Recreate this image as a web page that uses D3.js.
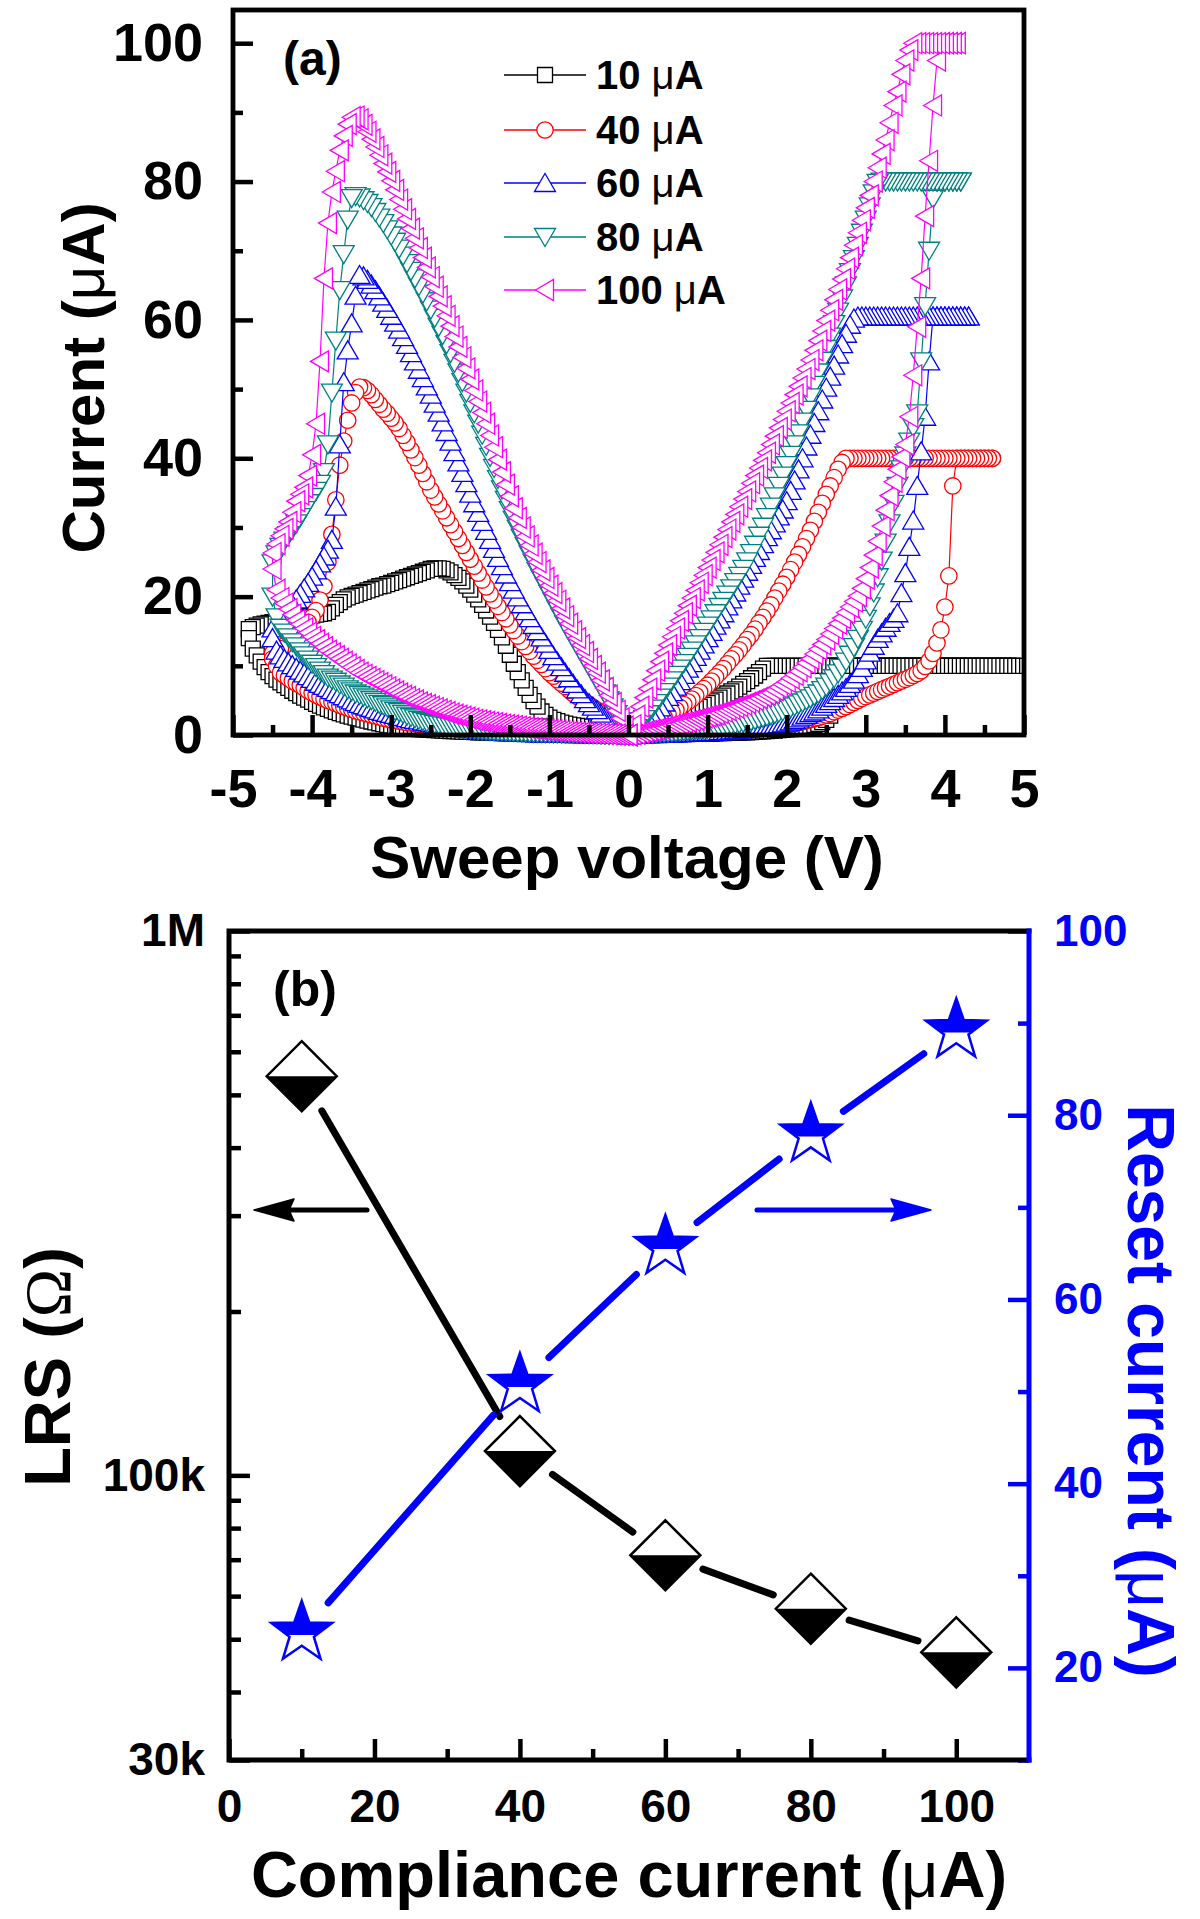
<!DOCTYPE html>
<html>
<head>
<meta charset="utf-8">
<script src="https://cdn.jsdelivr.net/npm/d3@7/dist/d3.min.js"></script>
<style>
  html, body { margin:0; padding:0; background:#ffffff; }
  svg { display:block; }
</style>
</head>
<body>
<svg id="chart" width="1200" height="1919" xmlns="http://www.w3.org/2000/svg"></svg>
<script>
// ================= DATA : panel (a) =================
// sweep voltage magnitude grid (V)
const sweepVoltage = [0,0.05,0.1,0.15,0.2,0.25,0.3,0.35,0.4,0.45,
0.5,0.55,0.6,0.65,0.7,0.75,0.8,0.85,0.9,0.95,
1,1.05,1.1,1.15,1.2,1.25,1.3,1.35,1.4,1.45,
1.5,1.55,1.6,1.65,1.7,1.75,1.8,1.85,1.9,1.95,
2,2.05,2.1,2.15,2.2,2.25,2.3,2.35,2.4,2.45,
2.5,2.55,2.6,2.65,2.7,2.75,2.8,2.85,2.9,2.95,
3,3.05,3.1,3.15,3.2,3.25,3.3,3.35,3.4,3.45,
3.5,3.55,3.6,3.65,3.7,3.75,3.8,3.85,3.9,3.95,
4,4.05,4.1,4.15,4.2,4.25,4.3,4.35,4.4,4.45,
4.5,4.55,4.6,4.65,4.7,4.75,4.8,4.85,4.9,4.95,
5];

// Currents (uA), index i <-> |V| = sweepVoltage[i]
// posUp: 0 -> +Vmax (set sweep), posDown: +Vmax -> 0 (stored ascending V)
// negUp: 0 -> -Vmax (reset sweep), negDown: -Vmax -> 0 (stored ascending |V|)

// ---- 10 uA ----
const i10_posUp = [0,0.01,0.02,0.03,0.04,0.05,0.06,0.07,0.08,0.09,
0.1,0.11,0.12,0.13,0.14,0.15,0.16,0.17,0.18,0.19,
0.2,0.22,0.24,0.26,0.28,0.3,0.32,0.34,0.36,0.38,
0.4,0.43,0.46,0.49,0.52,0.56,0.6,0.65,0.7,0.75,
0.8,0.87,0.94,1.02,1.1,1.2,1.32,1.45,1.6,1.85,
2.2,2.8,10,10,10,10,10,10,10,10,
10,10,10,10,10,10,10,10,10,10,
10,10,10,10,10,10,10,10,10,10,
10,10,10,10,10,10,10,10,10,10,
10,10,10,10,10,10,10,10,10];
const i10_posDown = [0,0.2,0.4,0.6,0.8,1.0,1.25,1.5,1.7,1.95,
2.2,2.45,2.7,2.95,3.2,3.4,3.6,3.85,4.1,4.35,
4.6,4.85,5.1,5.4,5.7,6.0,6.3,6.6,7.0,7.4,
7.8,8.2,8.6,9.1,9.6,10,10,10,10,10,
10,10,10,10,10,10,10,10,10,10,
10,10,10,10,10,10,10,10,10,10,
10,10,10,10,10,10,10,10,10,10,
10,10,10,10,10,10,10,10,10,10,
10,10,10,10,10,10,10,10,10,10,
10,10,10,10,10,10,10,10,10];
const i10_negUp = [0,0.1,0.2,0.3,0.4,0.5,0.6,0.7,0.8,0.9,
1.0,1.1,1.2,1.3,1.4,1.5,1.65,1.8,2.0,2.2,
2.5,2.9,3.4,4.1,4.9,5.8,6.8,7.9,9.1,10.3,
11.6,12.9,14.1,15.2,16.2,17.1,18.0,18.8,19.6,20.3,
21.0,21.6,22.2,22.7,23.1,23.5,23.8,24.0,24.1,24.1,
24.0,23.8,23.6,23.4,23.2,23.0,22.8,22.6,22.4,22.2,
22.0,21.8,21.6,21.5,21.3,21.1,20.9,20.7,20.5,20.3,
20.1,19.9,19.6,19.2,18.8,18.3,17.8,17.6,17.5,17.4,
17.3,17.2,17.1,17.0,16.9,16.8,16.7,16.6,16.5,16.4,
16.3,16.2,16.1,16.0,15.8,15.6,15.3];
const i10_negDown = [0,0.01,0.01,0.02,0.02,0.03,0.03,0.04,0.04,0.05,
0.05,0.06,0.06,0.07,0.07,0.08,0.08,0.09,0.09,0.1,
0.1,0.11,0.12,0.13,0.14,0.15,0.16,0.18,0.2,0.22,
0.24,0.26,0.28,0.3,0.32,0.34,0.36,0.38,0.4,0.42,
0.45,0.47,0.49,0.52,0.55,0.58,0.61,0.64,0.67,0.7,
0.73,0.77,0.81,0.86,0.91,0.97,1.03,1.1,1.18,1.27,
1.37,1.47,1.58,1.7,1.82,1.95,2.08,2.22,2.36,2.5,
2.65,2.8,2.97,3.15,3.35,3.55,3.77,4.0,4.25,4.5,
4.8,5.1,5.4,5.7,6.05,6.4,6.8,7.2,7.6,8.0,
8.5,9.1,9.8,10.6,11.5,12.5,14];

// ---- 40 uA ----
const i40_posUp = [0,0.02,0.04,0.06,0.08,0.1,0.12,0.14,0.16,0.18,
0.2,0.22,0.24,0.26,0.28,0.3,0.33,0.36,0.39,0.42,
0.45,0.48,0.52,0.56,0.6,0.64,0.68,0.72,0.77,0.82,
0.87,0.92,0.98,1.04,1.1,1.17,1.24,1.31,1.39,1.47,
1.55,1.64,1.74,1.85,1.97,2.1,2.24,2.38,2.53,2.7,
2.9,3.1,3.35,3.6,3.85,4.1,4.4,4.7,5.0,5.3,
5.55,5.8,6.05,6.3,6.55,6.8,7.05,7.3,7.55,7.8,
8.05,8.3,8.6,8.9,9.3,9.9,10.7,11.8,13.3,15.2,
18.5,23,36,40,40,40,40,40,40,40,
40,40,40];
const i40_posDown = [0,0.25,0.5,0.75,1.0,1.3,1.6,1.95,2.3,2.6,
2.95,3.3,3.6,4.0,4.4,4.8,5.2,5.7,6.2,6.7,
7.2,7.8,8.4,9.0,9.6,10.3,11.0,11.6,12.3,13.0,
13.8,14.5,15.3,16.2,17.0,17.9,18.8,19.8,20.8,21.8,
22.8,23.9,25.0,26.1,27.2,28.4,29.6,30.9,32.2,33.5,
34.8,36.0,37.2,38.4,39.4,40,40,40,40,40,
40,40,40,40,40,40,40,40,40,40,
40,40,40,40,40,40,40,40,40,40,
40,40,40,40,40,40,40,40,40,40,
40,40,40];
const i40_negUp = [0,0.5,1.0,1.5,2.0,2.4,2.8,3.2,3.6,4.0,
4.4,4.8,5.2,5.6,6.0,6.5,7.0,7.5,8.0,8.5,
9.0,9.6,10.2,10.8,11.4,12.1,12.8,13.5,14.3,15.1,
15.9,16.8,17.7,18.6,19.5,20.4,21.4,22.4,23.4,24.4,
25.4,26.4,27.4,28.4,29.4,30.4,31.4,32.4,33.4,34.4,
35.4,36.6,37.8,39.0,40.1,41.2,42.3,43.3,44.3,45.1,
45.8,46.5,47.1,47.8,48.5,49.2,49.8,50.2,50.3,49.5,
48,45.5,42.5,39,34,29,25,21.5,19.5,18,
17,16.3,15.6,15,14.4,13.9,13.4,12.9,12.5,12.1,
11.8];
const i40_negDown = [0,0.01,0.02,0.03,0.04,0.05,0.06,0.07,0.08,0.09,
0.1,0.11,0.12,0.13,0.14,0.15,0.16,0.17,0.18,0.19,
0.2,0.22,0.24,0.26,0.28,0.3,0.33,0.36,0.39,0.42,
0.45,0.48,0.5,0.53,0.56,0.59,0.62,0.65,0.68,0.72,
0.76,0.8,0.85,0.9,0.95,1.0,1.05,1.1,1.17,1.24,
1.32,1.4,1.47,1.55,1.63,1.72,1.8,1.9,2.0,2.1,
2.2,2.33,2.45,2.6,2.75,2.9,3.05,3.2,3.35,3.5,
3.7,3.9,4.1,4.3,4.55,4.8,5.0,5.25,5.5,5.8,
6.1,6.4,6.8,7.2,7.5,7.8,8.2,8.6,9.0,10.0,
11.0];

// ---- 60 uA ----
const i60_posUp = [0,0.02,0.04,0.06,0.08,0.1,0.12,0.14,0.16,0.18,
0.2,0.22,0.24,0.26,0.28,0.3,0.32,0.35,0.38,0.41,
0.44,0.47,0.5,0.54,0.58,0.62,0.67,0.72,0.77,0.83,
0.9,0.97,1.04,1.12,1.2,1.29,1.38,1.47,1.57,1.67,
1.78,1.95,2.15,2.4,2.65,2.9,3.15,3.4,3.7,4.1,
4.5,4.9,5.35,5.8,6.3,6.8,7.4,8.0,8.8,9.7,
10.8,11.9,12.9,13.9,14.7,15.5,16.2,16.8,17.6,20.5,
23.4,27.2,31,36,41,46,54,60.5,60.5,60.5,
60.5,60.5,60.5,60.5,60.5,60.5,60.5];
const i60_posDown = [0,0.3,0.7,1.1,1.5,2.1,2.7,3.3,4.0,4.7,
5.5,6.2,7.0,7.8,8.7,9.6,10.4,11.3,12.2,13.1,
14.0,14.9,15.8,16.7,17.6,18.6,19.6,20.6,21.6,22.6,
23.6,24.6,25.6,26.6,27.6,28.6,29.6,30.6,31.6,32.6,
33.8,35.3,36.8,38.4,40.0,41.7,43.4,45.1,46.8,48.5,
50.2,51.8,53.4,55.0,56.5,58.0,59.3,60.2,60.5,60.5,
60.5,60.5,60.5,60.5,60.5,60.5,60.5,60.5,60.5,60.5,
60.5,60.5,60.5,60.5,60.5,60.5,60.5,60.5,60.5,60.5,
60.5,60.5,60.5,60.5,60.5,60.5,60.5];
const i60_negUp = [0,0.4,0.8,1.2,1.6,2.1,2.6,3.1,3.6,4.1,
4.6,5.2,5.9,6.6,7.4,8.2,9.0,9.8,10.6,11.4,
12.3,13.2,14.1,15.0,15.9,16.9,17.9,18.9,19.9,21.0,
22.1,23.2,24.4,25.6,26.9,28.2,29.5,30.8,32.1,33.5,
34.9,36.4,37.9,39.4,40.9,42.4,43.8,45.2,46.6,47.9,
49.2,50.4,51.6,52.8,54.0,55.2,56.4,57.5,58.6,59.6,
60.6,61.6,62.5,63.4,64.3,65.1,65.8,66.3,66.5,63.5,
59.5,55.6,51,42,33,28.2,26.8,25.8,24.8,23.8,
22.9,22,21.2,20.4,19.6,18.9,18.2,17.5,16.8,16.1,
15.4];
const i60_negDown = [0,0.01,0.02,0.03,0.04,0.05,0.06,0.07,0.08,0.09,
0.1,0.11,0.12,0.13,0.14,0.15,0.16,0.17,0.18,0.19,
0.2,0.21,0.22,0.24,0.26,0.28,0.3,0.32,0.34,0.37,
0.4,0.43,0.46,0.5,0.55,0.6,0.65,0.7,0.76,0.83,
0.9,0.97,1.05,1.12,1.2,1.28,1.36,1.45,1.55,1.65,
1.75,1.85,1.95,2.1,2.2,2.3,2.45,2.6,2.75,2.9,
3.05,3.2,3.35,3.5,3.7,3.9,4.1,4.3,4.5,4.75,
5.0,5.3,5.6,5.9,6.2,6.5,6.8,7.1,7.4,7.7,
8.1,8.5,8.9,9.3,9.7,10.1,10.5,11.0,11.5,12.2,
14.0];

// ---- 80 uA ----
const i80_posUp = [0,0.03,0.06,0.1,0.13,0.17,0.2,0.24,0.28,0.32,
0.36,0.4,0.45,0.5,0.55,0.6,0.66,0.72,0.78,0.85,
0.92,1.0,1.08,1.16,1.25,1.35,1.45,1.55,1.65,1.77,
1.9,2.03,2.17,2.32,2.48,2.65,2.83,3.02,3.22,3.43,
3.65,3.9,4.15,4.42,4.7,5.0,5.3,5.65,6.0,6.5,
7.0,7.6,8.2,8.9,9.7,10.6,11.6,12.7,13.9,15.2,
16.8,18.6,20.6,22.8,25.2,27.8,30.6,33.4,36,38.4,
40.4,42.4,44.5,46.5,54,62,70,77.5,80,80,
80,80,80,80,80];
const i80_posDown = [0,0.5,1.0,1.6,2.3,3.0,3.8,4.6,5.4,6.2,
7.0,7.9,8.7,9.6,10.4,11.3,12.2,13.1,14.0,14.9,
15.8,16.7,17.6,18.5,19.4,20.3,21.2,22.1,23.0,24.0,
25.1,26.3,27.5,28.8,30.1,31.5,33.0,34.5,36.0,37.5,
39.0,40.5,42.0,43.6,45.3,47.0,48.8,50.6,52.4,54.1,
55.8,57.6,59.4,61.2,63.1,65.0,66.9,68.8,70.7,72.6,
74.5,76.4,78.3,79.8,80,80,80,80,80,80,
80,80,80,80,80,80,80,80,80,80,
80,80,80,80,80];
const i80_negUp = [0,1.0,2.0,3.0,4.0,5.0,6.0,7.0,8.0,9.0,
10.0,11.0,12.0,13.0,14.0,15.0,16.0,17.1,18.2,19.3,
20.4,21.5,22.6,23.7,24.9,26.1,27.3,28.5,29.8,31.1,
32.5,34.0,35.5,37.0,38.6,40.2,41.8,43.4,45.0,46.5,
48.0,49.5,51.0,52.4,53.8,55.2,56.5,57.8,59.0,60.3,
61.5,62.7,63.8,64.9,66.0,67.1,68.2,69.3,70.3,71.3,
72.2,73.1,74.0,74.8,75.6,76.3,76.9,77.3,77.7,77.9,
77.6,74.5,69.5,64.3,57,49.5,42,38,36.3,35.3,
34.4,33.5,32.5,31.5,30.6,29.7,28.9,28.1,27.2,26.1,
24.8];
const i80_negDown = [0,0.01,0.025,0.04,0.05,0.06,0.075,0.09,0.1,0.12,
0.13,0.14,0.15,0.16,0.17,0.18,0.2,0.21,0.23,0.24,
0.25,0.26,0.28,0.29,0.3,0.32,0.34,0.37,0.4,0.43,
0.46,0.48,0.5,0.53,0.56,0.6,0.63,0.67,0.71,0.75,
0.8,0.87,0.93,1.0,1.1,1.2,1.3,1.4,1.5,1.62,
1.75,1.88,2.0,2.2,2.4,2.6,2.8,3.05,3.3,3.5,
3.7,4.0,4.3,4.5,4.8,5.05,5.3,5.55,5.8,6.0,
6.3,6.6,7.0,7.3,7.7,8.0,8.3,8.8,9.3,9.8,
10.3,10.9,11.5,12.1,12.8,13.4,14.1,14.8,15.5,17,
20];

// ---- 100 uA ----
const i100_posUp = [0,0.1,0.2,0.35,0.45,0.6,0.7,0.85,1.0,1.1,
1.25,1.4,1.5,1.65,1.8,1.95,2.1,2.25,2.4,2.55,
2.7,2.85,3.0,3.2,3.4,3.6,3.8,4.0,4.2,4.4,
4.65,4.85,5.1,5.35,5.6,5.85,6.1,6.5,6.9,7.3,
7.7,8.2,8.7,9.2,9.8,10.4,11.0,11.7,12.4,13.1,
13.8,14.6,15.4,16.1,16.9,17.7,18.5,19.3,20.1,21.2,
22.6,24.2,26.0,28.0,30.2,32.5,34.6,36.6,38.4,40.2,
42.0,46,52,59,66,75,83,91,97.5,100,
100,100,100,100];
const i100_posDown = [0,1.4,2.8,4.1,5.4,6.7,8,9.3,10.6,11.8,
13,14.2,15.4,16.5,17.6,18.7,19.8,20.9,22,23.1,
24.2,25.3,26.4,27.5,28.6,29.7,30.8,31.9,33,34.1,
35.2,36.4,37.5,38.6,39.7,40.8,42,43.2,44.4,45.6,
46.8,48,49.2,50.4,51.6,52.9,54.2,55.6,57,58.4,
59.9,61.4,62.9,64.4,65.9,67.4,69,70.8,72.6,74.4,
76.2,78,80,82,84,86,88.5,91,93,95.5,
97.5,99,100,100,100,100,100,100,100,100,
100,100,100,100];
const i100_negUp = [0,1.2,2.4,3.5,4.6,5.7,6.8,7.9,9.0,10.0,
11.0,12.0,13.0,14.0,15.0,16.1,17.2,18.3,19.4,20.5,
21.6,22.7,23.8,25.0,26.2,27.4,28.7,30.0,31.4,32.8,
34.5,36.2,38,39.8,41.6,43.3,45,46.6,48.2,49.8,
51.4,53,54.6,56.1,57.6,59.1,60.6,62.0,63.4,64.8,
66.2,67.6,69.0,70.4,71.8,73.2,74.6,76.0,77.4,78.8,
80.1,81.4,82.6,83.8,85.0,86.1,87.2,88.2,89.0,89.4,
89.3,88.3,86.6,84.5,81.5,78.5,74,66,54,45,
40.5,37.5,35.8,34.8,33.8,32.2,30.8,29.8,28.8,27.6,
26.3];
const i100_negDown = [0,0.02,0.05,0.07,0.1,0.12,0.15,0.18,0.21,0.24,
0.27,0.3,0.34,0.38,0.42,0.46,0.5,0.55,0.6,0.65,
0.7,0.76,0.82,0.88,0.94,1.0,1.06,1.13,1.2,1.28,
1.35,1.42,1.5,1.6,1.7,1.8,1.9,2.0,2.1,2.2,
2.35,2.5,2.65,2.8,2.95,3.1,3.3,3.5,3.7,3.9,
4.1,4.3,4.5,4.7,5.0,5.2,5.5,5.7,6.0,6.3,
6.6,6.9,7.2,7.5,7.8,8.1,8.4,8.7,9.0,9.4,
9.8,10.2,10.6,11.0,11.4,11.8,12.2,12.7,13.2,13.7,
14.2,14.8,15.4,16.0,16.6,17.4,18.2,19.0,19.8,21,
24];

const legendLabels = ["10 μA","40 μA","60 μA","80 μA","100 μA"];
const aXTicks = [-5,-4,-3,-2,-1,0,1,2,3,4,5];
const aXTickLabels = ["-5","-4","-3","-2","-1","0","1","2","3","4","5"];
const aXMinor = [-4.5,-3.5,-2.5,-1.5,-0.5,0.5,1.5,2.5,3.5,4.5];
const aYTicks = [0,20,40,60,80,100];
const aYMinor = [10,30,50,70,90];

// ================= DATA : panel (b) =================
const complianceCurrent = [10,40,60,80,100];
const lrsResistance = [541000,110800,71300,56900,47300];
const resetCurrent = [23.8,50.7,65.7,77.9,89.2];
const bXTicks = [0,20,40,60,80,100];
const bXMinor = [10,30,50,70,90];
const bLTicks = [30000,100000,1000000];
const bLTickLabels = ["30k","100k","1M"];
const bLMinor = [40000,50000,60000,70000,80000,90000,200000,300000,400000,500000,600000,700000,800000,900000];
const bRTicks = [20,40,60,80,100];
const bRMinor = [10,30,50,70,90];

// ================= DRAW =================
const FONT = '"Liberation Sans", Arial, Helvetica, sans-serif';
const MUFONT = '"Liberation Sans", Arial, sans-serif';
const SERIF = '"Liberation Serif", "Times New Roman", serif';
const svg = d3.select("#chart");
svg.append("rect").attr("x",0).attr("y",0).attr("width",1200).attr("height",1919).attr("fill","#fff");

function richText(parent, parts, attrs){
  const t = parent.append("text");
  Object.entries(attrs).forEach(([k,v])=>t.attr(k,v));
  t.style("font-family",FONT).style("font-weight","bold");
  parts.forEach(p=>{
    t.append("tspan").text(p.t)
     .style("font-weight", p.w || "bold")
     .style("font-family", p.f || FONT);
  });
  return t;
}
function muParts(str){
  const idx = str.indexOf("μ");
  return [{t:str.slice(0,idx)},{t:"μ",w:"normal",f:MUFONT},{t:str.slice(idx+1)}];
}
function styleAxis(g, fontSize, color, sw){
  g.attr("font-family",null).attr("font-size",null);
  g.select(".domain").remove();
  g.selectAll(".tick line").attr("stroke",color).attr("stroke-width",sw);
  g.selectAll(".tick text").attr("fill",color)
    .style("font-family",FONT).style("font-weight","bold").style("font-size",fontSize+"px");
}

// ---------- Panel (a) ----------
const A = {l:233, r:1024, t:10, b:735};
const xA = d3.scaleLinear().domain([-5,5]).range([A.l, A.r]);
const yA = d3.scaleLinear().domain([0,104.8]).range([A.b, A.t]);

const symbolPath = {
  square: "M-7.5,-7.5H7.5V7.5H-7.5Z",
  circle: "M8.2,0A8.2,8.2 0 1,1 -8.2,0A8.2,8.2 0 1,1 8.2,0Z",
  up: "M0,-9.5L10.5,8.5L-10.5,8.5Z",
  down: "M0,9.5L10.5,-8.5L-10.5,-8.5Z",
  left: "M-9.5,0L8.5,-10.5L8.5,10.5Z"
};

const seriesA = [
  {label:legendLabels[0], color:"#000000", symbol:"square", posUp:i10_posUp, posDown:i10_posDown, negUp:i10_negUp, negDown:i10_negDown},
  {label:legendLabels[1], color:"#ff0000", symbol:"circle", posUp:i40_posUp, posDown:i40_posDown, negUp:i40_negUp, negDown:i40_negDown},
  {label:legendLabels[2], color:"#0000ff", symbol:"up",     posUp:i60_posUp, posDown:i60_posDown, negUp:i60_negUp, negDown:i60_negDown},
  {label:legendLabels[3], color:"#008080", symbol:"down",   posUp:i80_posUp, posDown:i80_posDown, negUp:i80_negUp, negDown:i80_negDown},
  {label:legendLabels[4], color:"#ff00ff", symbol:"left",   posUp:i100_posUp, posDown:i100_posDown, negUp:i100_negUp, negDown:i100_negDown}
];

function sweepPoints(s){
  const pts = [];
  s.posUp.forEach((c,i)=>pts.push([sweepVoltage[i], c]));
  for(let i=s.posDown.length-1;i>=0;i--) pts.push([sweepVoltage[i], s.posDown[i]]);
  s.negUp.forEach((c,i)=>pts.push([-sweepVoltage[i], c]));
  for(let i=s.negDown.length-1;i>=0;i--) pts.push([-sweepVoltage[i], s.negDown[i]]);
  return pts;
}

const gA = svg.append("g");
const lineA = d3.line().x(d=>xA(d[0])).y(d=>yA(d[1]));
seriesA.forEach(s=>{
  const pts = sweepPoints(s);
  const g = gA.append("g");
  g.append("path").attr("d", lineA(pts)).attr("fill","none")
    .attr("stroke", s.color).attr("stroke-width",1.2);
  g.selectAll("path.m").data(pts).join("path").attr("class","m")
    .attr("d", symbolPath[s.symbol])
    .attr("transform", d=>`translate(${xA(d[0]).toFixed(2)},${yA(d[1]).toFixed(2)})`)
    .attr("fill","#fff").attr("stroke", s.color).attr("stroke-width",1.3);
});

// axes (a)
const gAy = svg.append("g").attr("transform",`translate(${A.l},0)`)
  .call(d3.axisLeft(yA).tickValues(aYTicks).tickFormat(d=>String(d)).tickSizeInner(-20).tickSizeOuter(0).tickPadding(30));
styleAxis(gAy, 54, "#000", 4.5);
const gAym = svg.append("g").attr("transform",`translate(${A.l},0)`)
  .call(d3.axisLeft(yA).tickValues(aYMinor).tickFormat("").tickSizeInner(-10).tickSizeOuter(0));
styleAxis(gAym, 54, "#000", 4.5);
const gAx = svg.append("g").attr("transform",`translate(0,${A.b})`)
  .call(d3.axisBottom(xA).tickValues(aXTicks).tickFormat((d,i)=>aXTickLabels[i]).tickSizeInner(-20).tickSizeOuter(0).tickPadding(34));
styleAxis(gAx, 54, "#000", 4.5);
const gAxm = svg.append("g").attr("transform",`translate(0,${A.b})`)
  .call(d3.axisBottom(xA).tickValues(aXMinor).tickFormat("").tickSizeInner(-10).tickSizeOuter(0));
styleAxis(gAxm, 54, "#000", 4.5);
svg.append("rect").attr("x",A.l).attr("y",A.t).attr("width",A.r-A.l).attr("height",A.b-A.t)
  .attr("fill","none").attr("stroke","#000").attr("stroke-width",4.8);

// legend (a)
const legY = [75,130,183,237,290];
seriesA.forEach((s,i)=>{
  const y = legY[i];
  svg.append("line").attr("x1",504).attr("x2",586).attr("y1",y).attr("y2",y)
    .attr("stroke",s.color).attr("stroke-width",1.3);
  svg.append("path").attr("d",symbolPath[s.symbol]).attr("transform",`translate(545,${y})`)
    .attr("fill","#fff").attr("stroke",s.color).attr("stroke-width",1.3);
  richText(svg, muParts(s.label), {x:596, y:y+14, "font-size":40, fill:"#000"});
});

// labels (a)
richText(svg, [{t:"(a)"}], {x:283, y:75, "font-size":48, fill:"#000"});
richText(svg, [{t:"Sweep voltage (V)"}], {x:627, y:878, "font-size":60, "text-anchor":"middle", fill:"#000"});
richText(svg, muParts("Current (μA)"), {transform:"translate(104,378) rotate(-90)", "font-size":60, "text-anchor":"middle", fill:"#000"});

// ---------- Panel (b) ----------
const B = {l:229, r:1029, t:931, b:1760};
const xB = d3.scaleLinear().domain([0,110]).range([B.l, B.r]);
const yBL = d3.scaleLog().domain([30000,1000000]).range([B.b, B.t]);
const yBR = d3.scaleLinear().domain([10,100]).range([B.b, B.t]);
const BLUE = "#0000ff";

const gBl = svg.append("g").attr("transform",`translate(${B.l},0)`)
  .call(d3.axisLeft(yBL).tickValues(bLTicks).tickFormat((d,i)=>bLTickLabels[i]).tickSizeInner(-21).tickSizeOuter(0).tickPadding(24));
styleAxis(gBl, 46, "#000", 4.5);
const gBlm = svg.append("g").attr("transform",`translate(${B.l},0)`)
  .call(d3.axisLeft(yBL).tickValues(bLMinor).tickFormat("").tickSizeInner(-12).tickSizeOuter(0));
styleAxis(gBlm, 46, "#000", 4.5);
const gBx = svg.append("g").attr("transform",`translate(0,${B.b})`)
  .call(d3.axisBottom(xB).tickValues(bXTicks).tickFormat(d=>String(d)).tickSizeInner(-21).tickSizeOuter(0).tickPadding(29));
styleAxis(gBx, 46, "#000", 4.5);
const gBxm = svg.append("g").attr("transform",`translate(0,${B.b})`)
  .call(d3.axisBottom(xB).tickValues(bXMinor).tickFormat("").tickSizeInner(-11).tickSizeOuter(0));
styleAxis(gBxm, 46, "#000", 4.5);
const gBr = svg.append("g").attr("transform",`translate(${B.r},0)`)
  .call(d3.axisRight(yBR).tickValues(bRTicks).tickFormat(d=>String(d)).tickSizeInner(-21).tickSizeOuter(0).tickPadding(25));
styleAxis(gBr, 44, BLUE, 4.5);
const gBrm = svg.append("g").attr("transform",`translate(${B.r},0)`)
  .call(d3.axisRight(yBR).tickValues(bRMinor).tickFormat("").tickSizeInner(-11).tickSizeOuter(0));
styleAxis(gBrm, 44, BLUE, 4.5);

svg.append("path").attr("d",`M${B.r},${B.t}H${B.l}V${B.b}H${B.r}`).attr("fill","none")
  .attr("stroke","#000").attr("stroke-width",5).attr("stroke-linejoin","miter").attr("stroke-linecap","square");
svg.append("line").attr("x1",B.r).attr("x2",B.r).attr("y1",B.t).attr("y2",B.b)
  .attr("stroke",BLUE).attr("stroke-width",5).attr("stroke-linecap","square");

// gapped connecting segments
function gapSegments(pts, gap){
  const segs = [];
  for(let i=0;i<pts.length-1;i++){
    const [x1,y1]=pts[i], [x2,y2]=pts[i+1];
    const dx=x2-x1, dy=y2-y1, L=Math.hypot(dx,dy);
    const ux=dx/L, uy=dy/L;
    segs.push([x1+ux*gap, y1+uy*gap, x2-ux*gap, y2-uy*gap]);
  }
  return segs;
}
const lrsPts = complianceCurrent.map((c,i)=>[xB(c), yBL(lrsResistance[i])]);
const rstPts = complianceCurrent.map((c,i)=>[xB(c), yBR(resetCurrent[i])]);

svg.append("g").selectAll("line").data(gapSegments(lrsPts,40)).join("line")
  .attr("x1",d=>d[0]).attr("y1",d=>d[1]).attr("x2",d=>d[2]).attr("y2",d=>d[3])
  .attr("stroke","#000").attr("stroke-width",7).attr("stroke-linecap","round");
const dia = svg.append("g").selectAll("g").data(lrsPts).join("g")
  .attr("transform",d=>`translate(${d[0]},${d[1]})`);
dia.append("path").attr("d","M0,-35L35,0L0,35L-35,0Z").attr("fill","#fff");
dia.append("path").attr("d","M-35,0L35,0L0,35Z").attr("fill","#000");
dia.append("path").attr("d","M0,-35L35,0L0,35L-35,0Z").attr("fill","none").attr("stroke","#000").attr("stroke-width",2.5).attr("stroke-linejoin","miter");

svg.append("g").selectAll("line").data(gapSegments(rstPts,40)).join("line")
  .attr("x1",d=>d[0]).attr("y1",d=>d[1]).attr("x2",d=>d[2]).attr("y2",d=>d[3])
  .attr("stroke",BLUE).attr("stroke-width",7).attr("stroke-linecap","round");

function starPath(R, r){
  let p = "";
  for(let k=0;k<10;k++){
    const a = -Math.PI/2 + k*Math.PI/5;
    const rad = (k%2===0) ? R : r;
    p += (k?"L":"M") + (rad*Math.cos(a)).toFixed(2) + "," + (rad*Math.sin(a)).toFixed(2);
  }
  return p + "Z";
}
const defs = svg.append("defs");
defs.append("clipPath").attr("id","topHalf").attr("clipPathUnits","userSpaceOnUse")
  .append("rect").attr("x",-40).attr("y",-40).attr("width",80).attr("height",42);
const sp = starPath(32, 12.8);
const stars = svg.append("g").selectAll("g").data(rstPts).join("g")
  .attr("transform",d=>`translate(${d[0]},${d[1]})`);
stars.append("path").attr("d",sp).attr("fill","#fff");
stars.append("path").attr("d",sp).attr("fill",BLUE).attr("clip-path","url(#topHalf)");
stars.append("path").attr("d",sp).attr("fill","none").attr("stroke",BLUE).attr("stroke-width",2.5).attr("stroke-linejoin","miter");

// arrows
svg.append("line").attr("x1",367).attr("x2",290).attr("y1",1210).attr("y2",1210)
  .attr("stroke","#000").attr("stroke-width",5).attr("stroke-linecap","round");
svg.append("path").attr("d","M254,1210L294,1199L289,1210L294,1221Z").attr("fill","#000").attr("stroke","#000").attr("stroke-width",1.5).attr("stroke-linejoin","round");
svg.append("line").attr("x1",757).attr("x2",898).attr("y1",1210).attr("y2",1210)
  .attr("stroke",BLUE).attr("stroke-width",5).attr("stroke-linecap","round");
svg.append("path").attr("d","M931,1210L891,1199L896,1210L891,1221Z").attr("fill",BLUE).attr("stroke",BLUE).attr("stroke-width",1.5).attr("stroke-linejoin","round");

// labels (b)
richText(svg, [{t:"(b)"}], {x:273, y:1006, "font-size":50, fill:"#000"});
richText(svg, muParts("Compliance current (μA)"), {x:629, y:1897, "font-size":65, "text-anchor":"middle", fill:"#000"});
richText(svg, [{t:"LRS ("},{t:"Ω",w:"normal",f:SERIF},{t:")"}], {transform:"translate(70,1367) rotate(-90)", "font-size":65, "text-anchor":"middle", fill:"#000"});
richText(svg, muParts("Reset current (μA)"), {transform:"translate(1128,1391) rotate(90)", "font-size":66, "text-anchor":"middle", fill:BLUE});
</script>
</body>
</html>
